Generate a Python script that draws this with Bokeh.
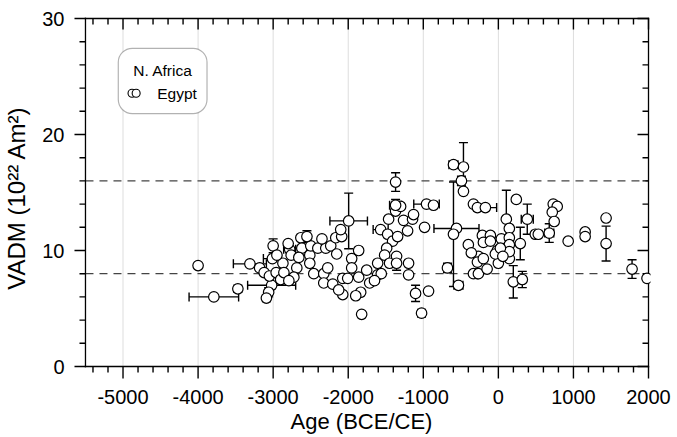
import numpy as np
from bokeh.plotting import figure
from bokeh.models import (ColumnDataSource, Whisker, TeeHead, FixedTicker,
                          BoxAnnotation, Label, Range1d)
from bokeh.embed import file_html
from bokeh.resources import INLINE

# ---- data (Egypt, N. Africa) ----
age = [-4000, -3790, -3470, -3310, -3000, -3010, -3020, -3180, -3120, -3050,
       -2960, -2900, -3060, -3090, -2780, -2870, -2760, -2631, -2618, -2658,
       -2685, -2512, -2499, -2405, -2299, -2233, -2166, -2087, -2153, -2512,
       -2459, -2326, -2273, -1954, -1861, -1954, -2857, -2724, -2791, -2326,
       -2206, -2073, -2007, -1861, -1754, -1608, -1608, -1714, -1834, -1900,
       -2073, -2127, -1821, -1994, -1369, -983, -957, -864, -598, -465,
       -492, -465, -332, -279, -558, -598, -678, -532, -279, -1462,
       -1369, -1302, -1263, -1143, -1130, -1568, -1475, -1409, -1342, -1209,
       -1488, -1515, -1449, -1356, -1356, -1196, -1196, -1103, -1023, -930,
       -1369, -173, 239, 106, 146, 385, 492, 532, 678, 731,
       784, 718, 744, 930, 1156, 1156, 1435, 1435, 1781, 1980,
       -213, -106, -199, -106, 40, 146, 146, 292, 0, 146,
       146, -13, -266, -279, -332, -266, 199, 319, -40, 27,
       -400, -360, -200, -150, 60, -2100, -1560, -1650, -2550, -2350,
       -2800, -2950]
vadm = [8.7, 6.0, 6.7, 8.85, 10.4, 9.3, 7.0, 8.5, 8.1, 7.8,
        8.1, 7.5, 6.4, 5.9, 10.1, 8.9, 9.6, 11.1, 10.2, 9.4,
        8.5, 9.6, 10.4, 10.2, 10.2, 10.4, 11.1, 11.2, 9.7, 8.9,
        8.0, 8.0, 8.5, 9.3, 10.0, 8.5, 8.1, 7.7, 7.4, 7.2,
        7.1, 7.6, 7.6, 7.7, 8.3, 7.9, 8.9, 7.2, 6.4, 6.1,
        6.2, 6.6, 4.5, 12.55, 15.9, 12.0, 14.0, 13.9, 17.4, 17.2,
        16.0, 15.1, 14.0, 13.7, 11.9, 11.4, 8.5, 7.0, 8.0, 12.7,
        13.4, 13.8, 12.6, 12.7, 13.1, 11.8, 11.4, 10.8, 11.2, 11.7,
        10.2, 9.6, 8.9, 9.5, 8.9, 8.9, 7.9, 6.3, 4.6, 6.5,
        13.9, 13.7, 14.4, 12.7, 11.9, 12.7, 11.4, 11.4, 11.5, 14.0,
        13.8, 13.3, 12.5, 10.8, 11.6, 11.2, 12.8, 10.6, 8.4, 7.6,
        11.3, 11.3, 10.7, 10.8, 11.0, 11.1, 10.5, 10.6, 8.9, 9.3,
        9.9, 10.0, 9.5, 9.0, 8.0, 8.0, 7.3, 7.5, 9.7, 10.2,
        10.5, 9.8, 9.3, 8.4, 9.5, 11.8, 8.0, 7.4, 11.2, 11.0,
        10.6, 9.6]
age_err = [0, 330, 0, 220, 0, 120, 320, 0, 0, 0,
           0, 0, 0, 0, 80, 0, 0, 0, 0, 0,
           0, 0, 0, 0, 0, 0, 0, 0, 0, 0,
           0, 0, 0, 0, 0, 0, 0, 0, 0, 0,
           0, 0, 0, 0, 0, 0, 0, 0, 0, 0,
           0, 0, 0, 250, 0, 0, 170, 0, 60, 0,
           0, 0, 0, 0, 300, 0, 0, 60, 0, 0,
           0, 0, 0, 0, 0, 100, 0, 0, 0, 0,
           0, 0, 0, 0, 0, 0, 0, 0, 50, 0,
           80, 150, 0, 0, 0, 80, 0, 0, 60, 0,
           0, 0, 0, 0, 0, 0, 0, 0, 0, 0,
           0, 0, 0, 0, 0, 0, 0, 0, 0, 0,
           0, 0, 0, 0, 0, 0, 0, 0, 0, 0,
           0, 0, 0, 0, 0, 0, 0, 0, 0, 0,
           0, 0]
vadm_err = [0.2, 0, 0.3, 0, 0.6, 0, 0, 0, 0, 0,
            0, 0, 0.4, 0.3, 0, 0, 0, 0, 0, 0,
            0, 0, 0, 0, 0, 0, 0, 0, 0, 0,
            0, 0, 0, 0, 0, 0, 0, 0, 0, 0,
            0, 0, 0, 0, 0, 0, 0, 0, 0, 0,
            0, 0, 0.2, 2.4, 0.8, 0, 0, 0, 0, 2.1,
            0.4, 0, 0, 0, 0, 4.5, 0.4, 0, 0, 0,
            0, 0, 0, 0, 0, 0, 0, 0, 0, 0,
            0, 0, 0, 0, 0.6, 0, 0, 0.7, 0, 0,
            0.5, 0, 0, 2.5, 0, 1.3, 0, 0, 0.8, 0,
            0, 0, 0, 0, 0, 0, 0, 1.5, 0.8, 0,
            0, 0, 0, 0, 0, 0, 0, 1.4, 0, 0,
            0, 0, 0, 0, 0, 0, 1.4, 0.7, 0, 0,
            0, 0, 0, 0, 0, 0, 0, 0, 0.5, 0,
            0, 0]

x_ticks = [-5000, -4000, -3000, -2000, -1000, 0, 1000, 2000]
x_minor = [t for t in range(-5400, 2000, 200) if t % 1000 != 0]
y_ticks = [0, 10, 20, 30]
y_minor = [t for t in range(2, 30, 2) if t % 10 != 0]
ref_levels = [8, 16]
x_title = "Age (BCE/CE)"
y_title = "VADM (10²² Am²)"
legend_title = "N. Africa"
legend_label = "Egypt"

FONT = "Liberation Sans"
X0, X1, Y0, Y1 = -5500, 2000, 0, 30          # axis limits
FRAME_W, FRAME_H = 564, 348                    # pixel size of the axes box
PAD_L, PAD_B, PAD_T, PAD_R = 13, 13, 2, 2      # room for outward ticks inside the frame
xpp = (X1 - X0) / FRAME_W
ypp = (Y1 - Y0) / FRAME_H

a = np.array(age, float)
v = np.array(vadm, float)
ae = np.array(age_err, float)
ve = np.array(vadm_err, float)

p = figure(width=677, height=437,
           x_range=Range1d(X0 - PAD_L * xpp, X1 + PAD_R * xpp),
           y_range=Range1d(Y0 - PAD_B * ypp, Y1 + PAD_T * ypp),
           output_backend="svg", toolbar_location=None,
           min_border_left=84 - PAD_L, min_border_right=677 - 84 - FRAME_W - PAD_R,
           min_border_top=18 - PAD_T, min_border_bottom=437 - 18 - FRAME_H - PAD_B,
           x_axis_label=x_title, y_axis_label=y_title)
p.outline_line_color = None
p.background_fill_color = "white"
p.border_fill_color = "white"
p.xgrid.visible = False
p.ygrid.visible = False

bx = p.below[0]
ly = p.left[0]
bx.ticker = FixedTicker(ticks=x_ticks)
ly.ticker = FixedTicker(ticks=y_ticks)
for ax, ticks in ((bx, x_ticks), (ly, y_ticks)):
    ax.axis_line_color = None
    ax.major_tick_line_color = None
    ax.minor_tick_line_color = None
    ax.major_tick_in = ax.major_tick_out = 0
    ax.minor_tick_in = ax.minor_tick_out = 0
    ax.major_label_text_font = FONT
    ax.major_label_text_font_size = "20px"
    ax.major_label_text_color = "black"
    ax.major_label_overrides = {t: str(t) for t in ticks}
    ax.axis_label_text_font = FONT
    ax.axis_label_text_font_style = "normal"
    ax.axis_label_text_color = "black"
bx.major_label_standoff = 10
bx.axis_label_standoff = 2
bx.axis_label_text_font_size = "22px"
ly.major_label_standoff = 8
ly.axis_label_standoff = 9
ly.axis_label_text_font_size = "24px"

# vertical grid lines at the major ages
grid_x = [t for t in x_ticks if X0 < t < X1]
p.segment(x0=grid_x, y0=[Y0] * len(grid_x), x1=grid_x, y1=[Y1] * len(grid_x),
          line_color="#dddddd", line_width=1, level="underlay")

# reference levels (dashed)
p.segment(x0=[X0] * len(ref_levels), y0=ref_levels, x1=[X1] * len(ref_levels), y1=ref_levels,
          line_color="#444444", line_dash="8 6", line_width=1.2, level="underlay")

# legend box
box = BoxAnnotation(left=-5063, right=-3881, top=27.43, bottom=21.8,
                    fill_color="white", fill_alpha=1.0, line_color="black",
                    line_width=1.2, border_radius=14, level="underlay")
p.add_layout(box)

# error bars
mx = ae > 0
my = ve > 0
src_x = ColumnDataSource(dict(base=v[mx], lower=(a - ae)[mx], upper=(a + ae)[mx]))
src_y = ColumnDataSource(dict(base=a[my], lower=(v - ve)[my], upper=(v + ve)[my]))
for src, dim in ((src_x, "width"), (src_y, "height")):
    w = Whisker(base="base", lower="lower", upper="upper", source=src, dimension=dim,
                line_color="black", line_width=1.4, level="underlay",
                upper_head=TeeHead(size=9, line_color="black", line_width=1.4),
                lower_head=TeeHead(size=9, line_color="black", line_width=1.4))
    p.add_layout(w)

# axes box
p.segment(x0=[X0, X0, X0, X1], y0=[Y0, Y1, Y0, Y0], x1=[X1, X1, X0, X1], y1=[Y0, Y1, Y1, Y1],
          line_cap="square", line_color="black", line_width=1.3)

# ticks as thin filled bars (bottom/left outward, top/right inward)
TW = 1.4
cx, cy, w_px, h_px = [], [], [], []
for t, L in [(t, 12) for t in x_ticks] + [(t, 6) for t in x_minor]:
    Lt = 11 if L == 12 else L
    cx += [t, t]
    cy += [Y0 - L / 2 * ypp, Y1 - Lt / 2 * ypp]
    w_px += [TW, TW]
    h_px += [L, Lt]
for t, L in [(t, 11) for t in y_ticks] + [(t, 6) for t in y_minor]:
    cx += [X0 - L / 2 * xpp, X1 - L / 2 * xpp]
    cy += [t, t]
    w_px += [L, L]
    h_px += [TW, TW]
tick_src = ColumnDataSource(dict(x=cx, y=cy, w=w_px, h=h_px))
p.rect(x="x", y="y", width="w", height="h", width_units="screen", height_units="screen",
       source=tick_src, fill_color="black", line_color=None)

src = ColumnDataSource(dict(age=a, vadm=v))
p.scatter("age", "vadm", source=src, marker="circle", size=10.5,
          fill_color="white", line_color="black", line_width=1.2)

# legend contents
p.scatter(x=[-4880, -4825], y=[23.55, 23.55], marker="circle", size=8,
          fill_color="white", line_color="black", line_width=1.1)
p.add_layout(Label(x=-4864, y=25.55, text=legend_title, text_font=FONT,
                   text_font_size="15.5px", text_baseline="middle", text_color="black"))
p.add_layout(Label(x=-4545, y=23.5, text=legend_label, text_font=FONT,
                   text_font_size="15.5px", text_baseline="middle", text_color="black"))

open("out.html", "w").write(file_html(p, INLINE))
